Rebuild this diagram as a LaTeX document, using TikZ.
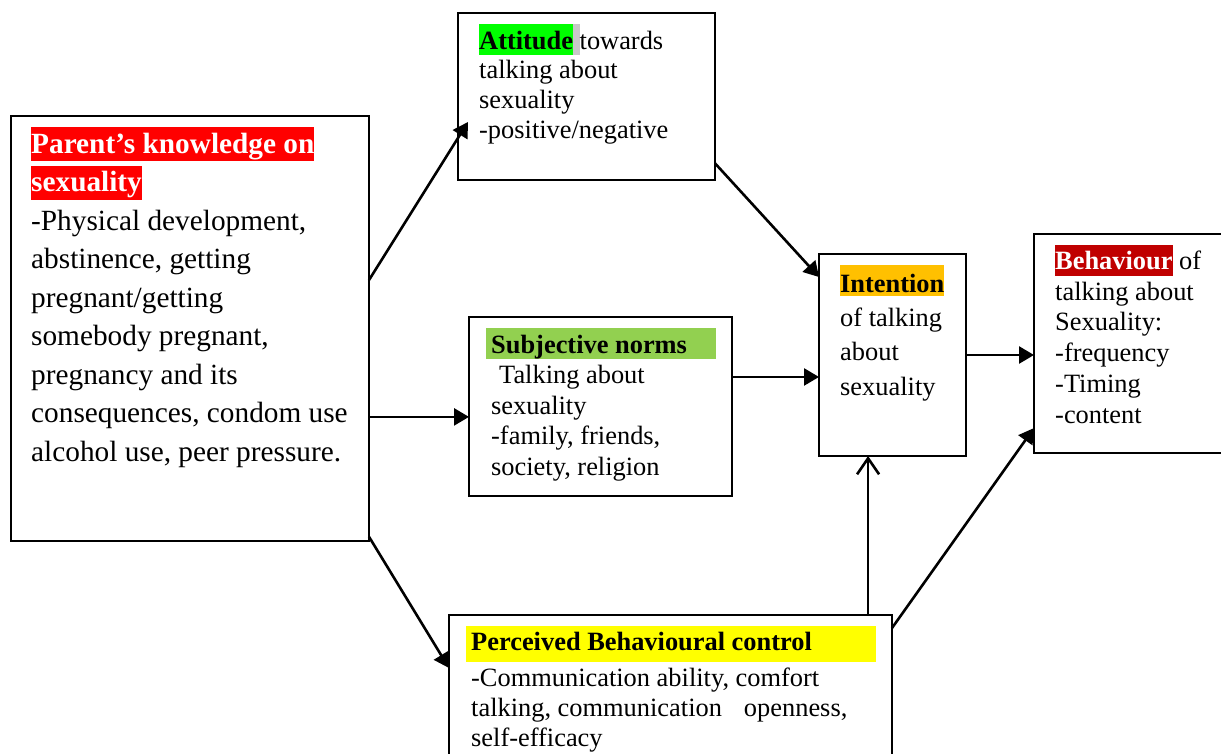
\documentclass[tikz,border=0pt]{standalone}
\usepackage{fontspec}
\setmainfont{Liberation Serif}
\usepackage{xcolor}
\usetikzlibrary{arrows.meta, calc, positioning}
\definecolor{hlRed}{HTML}{FF0000}
\definecolor{hlGreen}{HTML}{00FF00}
\definecolor{hlGray}{HTML}{C8C8C8}
\definecolor{hlOlive}{HTML}{92D050}
\definecolor{hlAmber}{HTML}{FFC000}
\definecolor{hlDark}{HTML}{C00000}
\definecolor{hlYellow}{HTML}{FFFF00}
\tikzset{
arrowMe/.style={line width=2.6pt, -{Triangle[length=15pt,width=17pt]}},
arrowOpen/.style={line width=2.6pt, -{Straight Barb[length=16pt,width=22pt]}}
}
\newcommand{\hilite}[4]{{\setlength{\fboxsep}{0pt}\colorbox{#1}{\rule[-#3]{0pt}{\dimexpr #2+#3\relax}#4}}}

\begin{document}
\begin{tikzpicture}[x=1pt,y=1pt]
		\tikzset{frame/.style = {draw, line width=1.8pt, anchor=north west, inner sep=0pt, outer sep=0pt}}
		\tikzset{boxtext/.style = {inner sep=0pt, align=left, font=\fontsize{26.4}{30.5}\selectfont}}

		\useasboundingbox (0,0) rectangle (1221,-753);

		\node[frame, minimum width=358pt, minimum height=425pt] (parent) at (11,-116) {};
		\node[frame, minimum width=257pt, minimum height=167pt] (attitude) at (458,-13) {};
		\node[frame, minimum width=263pt, minimum height=179pt] (subj) at (469,-317) {};
		\node[frame, minimum width=147pt, minimum height=202pt] (intention) at (819,-254) {};
		\node[frame, minimum width=200pt, minimum height=219pt] (behaviour) at (1034,-234) {};
		\node[frame, minimum width=443pt, minimum height=160pt] (perceived) at (449,-615) {};

		\node[boxtext, font=\fontsize{29.3}{38.5}\selectfont, below right=11pt and 20pt of parent.north west] (parentTxt)
			{\hilite{hlRed}{26pt}{8pt}{\color{white}\bfseries Parent’s knowledge on}\\
			 \hilite{hlRed}{26pt}{8pt}{\color{white}\bfseries sexuality}\\
			 -Physical development,\\ abstinence, getting\\ pregnant/getting\\ somebody pregnant,\\
			 pregnancy and its\\ consequences, condom use\\ alcohol use, peer pressure.};
		\node[boxtext, font=\fontsize{26.4}{29.7}\selectfont, below right=11pt and 21pt of attitude.north west] (attitudeTxt)
			{\hilite{hlGreen}{25pt}{6pt}{\bfseries Attitude}\hilite{hlGray}{25pt}{6pt}{\ }towards\\
			 talking about\\ sexuality\\ -positive/negative};
		\node[boxtext, below right=11pt and 22pt of subj.north west] (subjTxt)
			{\hspace*{-5pt}\hilite{hlOlive}{25pt}{6pt}{\makebox[230pt][l]{\hspace{5pt}\bfseries Subjective norms}}\\
			 \hspace*{8pt}Talking about\\ sexuality\\ -family, friends,\\ society, religion};
		\node[boxtext, font=\fontsize{26.4}{34.3}\selectfont, below right=11pt and 21pt of intention.north west] (intentionTxt)
			{\hilite{hlAmber}{27pt}{4pt}{\bfseries Intention}\\ of talking\\ about\\ sexuality};
		\node[boxtext, font=\fontsize{26.4}{30.8}\selectfont, below right=11pt and 21pt of behaviour.north west] (behaviourTxt)
			{\hilite{hlDark}{24pt}{7pt}{\color{white}\bfseries Behaviour} of\\
			 talking about\\ Sexuality:\\ -frequency\\ -Timing\\ -content};
		\node[boxtext, font=\fontsize{26.4}{30}\selectfont, below right=11pt and 22pt of perceived.north west] (perceivedTxt)
			{\hspace*{-5pt}\hilite{hlYellow}{24pt}{12pt}{\makebox[410pt][l]{\hspace{5pt}\bfseries Perceived Behavioural control}}\\[5pt]
			 -Communication ability, comfort\\
			 talking, communication\hspace*{22pt}openness,\\ self-efficacy};

		\coordinate (p1) at ($(parent.north east)!.386!(parent.south east)$);
		\coordinate (p2) at ($(parent.north east)!.708!(parent.south east)$);
		\coordinate (p3) at ($(parent.north east)!.99!(parent.south east)$);
		\coordinate (a1) at ($(attitude.north east)!.9!(attitude.south east)$);
		\coordinate (s1) at ($(subj.north east)!.335!(subj.south east)$);
		\coordinate (q1) at ($(perceived.north west)!.946!(perceived.north east)$);

		\draw[arrowMe] (p1) to ($(attitude.south west)+(10,58)$);
		\draw[arrowMe] (p2) to (p2 -| subj.west);
		\draw[arrowMe] (p3) to ($(perceived.north west)+(0,-53)$);
		\draw[arrowMe] (a1) to ($(intention.north west)!.114!(intention.south west)$);
		\draw[arrowMe] (s1) to (s1 -| intention.west);
		\draw[arrowMe] (intention.east) to (intention.east -| behaviour.west);
		\draw[arrowOpen] (q1) to (q1 |- intention.south);
		\draw[arrowMe] ($(perceived.north east)+(0,-13)$) to ($(behaviour.north west)!.886!(behaviour.south west)$);
	\end{tikzpicture}
\end{document}
